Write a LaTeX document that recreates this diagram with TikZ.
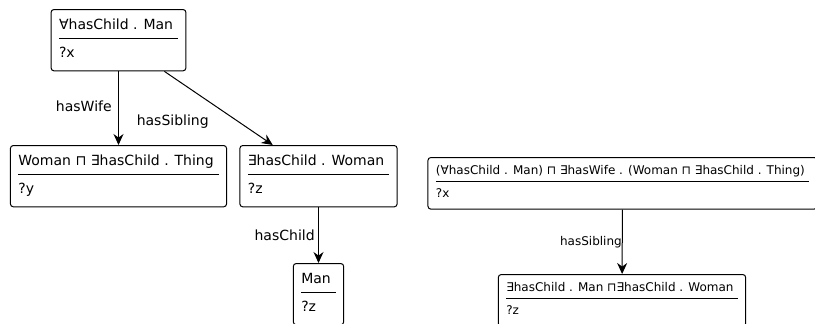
\documentclass[tikz,border=0pt]{standalone}
\usepackage{fontspec}
\setmainfont{DejaVu Sans}
\usetikzlibrary{arrows.meta}
\newcommand{\qbox}[2]{{\renewcommand{\arraystretch}{0}%
  \begin{tabular}{@{}l@{\hspace{0.35em}}}
  \rule[-0.58em]{0pt}{1.66em}#1\\\hline
  \rule[-0.62em]{0pt}{1.98em}#2
  \end{tabular}}}

\begin{document}
\begin{tikzpicture}[x=1pt,y=-1pt,line width=1pt,
    qnode/.style={draw, rounded corners=3pt, anchor=north, inner xsep=8pt, inner ysep=0.5em, font=\fontsize{14}{16}\selectfont},
    small/.style={font=\fontsize{12}{14}\selectfont},
    smallbox/.style={small, inner ysep=0.38em},
    rel/.style={-{Stealth[length=11pt,width=10pt]}},
    lbl/.style={font=\fontsize{14}{16}\selectfont}]
        \useasboundingbox (0,0) rectangle (815,324);
        % left tree
        \node[qnode] (allman) at (118.5,9) {\qbox{∀hasChild . Man}{?x}};
        \node[qnode] (womanthing) at (118.5,145) {\qbox{Woman ⊓ ∃hasChild . Thing}{?y}};
        \node[qnode] (childwoman) at (318.5,145) {\qbox{∃hasChild . Woman}{?z}};
        \node[qnode] (man) at (318.5,263) {\qbox{Man}{?z}};
        % right tree
        \node[qnode,smallbox] (conj) at (622.5,157) {\qbox{(∀hasChild . Man) ⊓ ∃hasWife . (Woman ⊓ ∃hasChild . Thing)}{?x}};
        \node[qnode,smallbox] (twochild) at (622,274) {\qbox{∃hasChild . Man ⊓∃hasChild . Woman}{?z}};
        \draw[rel] (allman) -- node[lbl, pos=0.47, left, xshift=-3pt] {hasWife} (womanthing);
        \draw[rel] (allman) -- node[lbl, pos=0.5, anchor=north east, xshift=-6pt, yshift=-3pt] {hasSibling} (childwoman);
        \draw[rel] (childwoman) -- node[lbl, left] {hasChild} (man);
        \draw[rel] (conj) -- node[small, left, inner sep=0pt] {hasSibling} (twochild);
\end{tikzpicture}
\end{document}
